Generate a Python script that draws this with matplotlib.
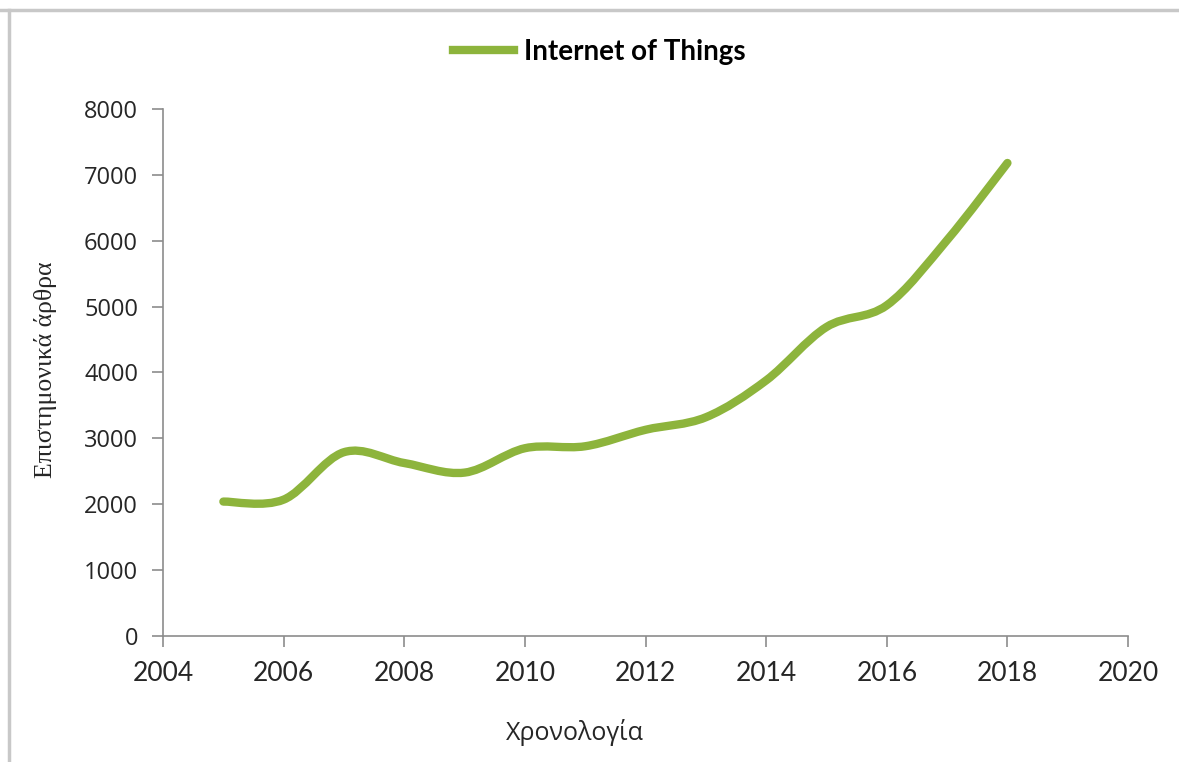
import matplotlib
matplotlib.use("Agg")
import matplotlib.pyplot as plt
from matplotlib.path import Path
from matplotlib.patches import PathPatch
from matplotlib.lines import Line2D

years = [2005, 2006, 2007, 2008, 2009, 2010, 2011, 2012, 2013, 2014, 2015, 2016, 2017, 2018]
articles = [2040, 2070, 2790, 2625, 2480, 2850, 2880, 3130, 3320, 3880, 4690, 5020, 6010, 7180]
series_name = "Internet of Things"

x_ticks = list(range(2004, 2021, 2))
y_ticks = list(range(0, 8001, 1000))

LINE_COLOR = "#8db43c"
AXIS_COLOR = "#8c8c8c"
TEXT_COLOR = "#262626"


def smooth_path(xs, ys):
    # excel-like smoothed line: cubic bezier through every point
    pts = list(zip(xs, ys))
    n = len(pts)
    verts = [pts[0]]
    codes = [Path.MOVETO]
    for i in range(n - 1):
        p0 = pts[i - 1] if i > 0 else pts[i]
        p1 = pts[i]
        p2 = pts[i + 1]
        p3 = pts[i + 2] if i + 2 < n else pts[i + 1]
        c1 = (p1[0] + (p2[0] - p0[0]) / 6, p1[1] + (p2[1] - p0[1]) / 6)
        c2 = (p2[0] - (p3[0] - p1[0]) / 6, p2[1] - (p3[1] - p1[1]) / 6)
        verts += [c1, c2, p2]
        codes += [Path.CURVE4] * 3
    return Path(verts, codes)


def main():
    fig = plt.figure(figsize=(11.79, 7.62), dpi=100)
    ax = fig.add_axes([0.1383, 0.1654, 0.8185, 0.6916])

    patch = PathPatch(smooth_path(years, articles), facecolor="none",
                      edgecolor=LINE_COLOR, lw=6, capstyle="round", joinstyle="round")
    ax.add_patch(patch)

    ax.set_xlim(2004, 2020)
    ax.set_ylim(0, 8000)
    ax.set_xticks(x_ticks)
    ax.set_yticks(y_ticks)

    for side in ("top", "right"):
        ax.spines[side].set_visible(False)
    for side in ("left", "bottom"):
        ax.spines[side].set_color(AXIS_COLOR)
        ax.spines[side].set_linewidth(1.2)

    ax.tick_params(axis="both", direction="out", length=8, width=1.2, color=AXIS_COLOR,
                   labelcolor=TEXT_COLOR)
    ax.tick_params(axis="y", pad=10)
    ax.tick_params(axis="x", pad=10)
    for lab in ax.get_xticklabels():
        lab.set_fontfamily(["Lato", "DejaVu Sans"])
        lab.set_fontsize(19)
    for lab in ax.get_yticklabels():
        lab.set_fontfamily(["Open Sans", "DejaVu Sans"])
        lab.set_fontsize(17)

    # legend
    handle = Line2D([], [], color=LINE_COLOR, lw=6)
    fig.legend([handle], [series_name], loc="center", bbox_to_anchor=(0.508, 0.932),
               frameon=False, handlelength=2.2, handletextpad=0.35,
               prop={"family": ["Lato", "DejaVu Sans"], "weight": "bold", "size": 20})

    fig.text(575 / 1179, 1 - 732 / 762, "Χρονολογία", ha="center", va="center",
             fontsize=18, color=TEXT_COLOR, family=["Open Sans", "DejaVu Sans"])
    fig.text(46 / 1179, 1 - 370 / 762, "Επιστημονικά άρθρα", ha="center", va="center",
             rotation=90, fontsize=18.5, color=TEXT_COLOR, family=["Liberation Serif", "DejaVu Serif"])

    # frame lines top and left
    fig.add_artist(Line2D([0, 1], [1 - 10 / 762] * 2, color="#c8c8c8", lw=2.5,
                          transform=fig.transFigure))
    fig.add_artist(Line2D([9 / 1179] * 2, [0, 1 - 10 / 762], color="#c8c8c8", lw=2.5,
                          transform=fig.transFigure))

    fig.savefig("out.png", dpi=100)


if __name__ == '__main__':
    main()
